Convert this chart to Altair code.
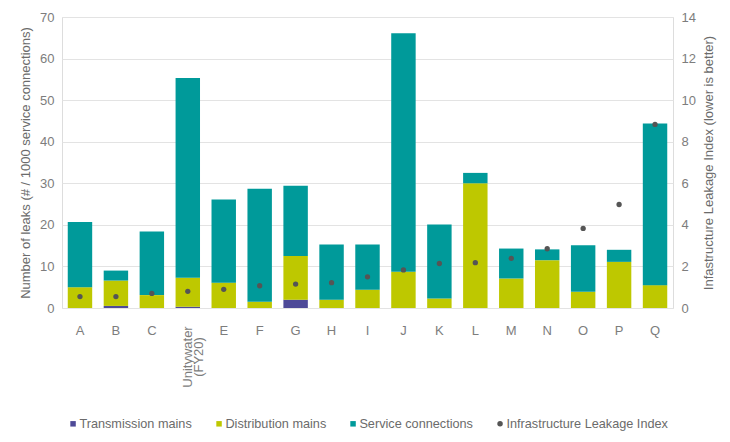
import altair as alt
import pandas as pd

categories = ["A", "B", "C", "Unitywater (FY20)", "E", "F", "G", "H", "I",
              "J", "K", "L", "M", "N", "O", "P", "Q"]
transmission = [0, 0.5, 0, 0.3, 0, 0, 2.0, 0, 0, 0, 0, 0, 0, 0, 0, 0, 0]
distribution = [5.0, 6.1, 3.1, 7.0, 6.1, 1.5, 10.5, 2.0, 4.4, 8.7, 2.3, 30.0, 7.1, 11.5, 3.9, 11.1, 5.5]
service = [15.7, 2.4, 15.3, 48.0, 20.0, 27.2, 16.9, 13.3, 10.9, 57.4, 17.8, 2.5, 7.2, 2.6, 11.2, 2.9, 38.9]
ili = [0.55, 0.55, 0.7, 0.8, 0.9, 1.07, 1.15, 1.22, 1.5, 1.83, 2.14, 2.18, 2.39, 2.85, 3.83, 4.98, 8.83]

series_names = ["Transmission mains", "Distribution mains", "Service connections",
                "Infrastructure Leakage Index"]
series_colors = ["#4e4a98", "#bec800", "#009a9a", "#555555"]
series_shapes = ["square", "square", "square", "circle"]

rows = []
for i, c in enumerate(categories):
    for k, vals in enumerate([transmission, distribution, service]):
        rows.append({"cat": c, "series": series_names[k], "value": vals[i], "ord": k})
bars_df = pd.DataFrame(rows)
ili_df = pd.DataFrame({"cat": categories, "ili": ili, "series": series_names[3]})
label_df = pd.DataFrame({"cat": ["Unitywater (FY20)"]})

FONT = "Liberation Sans"
GRAY = "#6b6b6b"
LGRAY = "#7d7d7d"

legend = alt.Legend(
    title=None, orient="none", direction="horizontal",
    legendX=4.7, legendY=400, padding=0,
    symbolSize=30, symbolStrokeWidth=0,
    labelFont=FONT, labelFontSize=12.7, labelColor=GRAY, labelLimit=400,
    labelOffset=0, columnPadding=20)

color_scale = alt.Scale(domain=series_names, range=series_colors)
shape_scale = alt.Scale(domain=series_names, range=series_shapes)

x_enc = alt.X("cat:N", sort=categories, title=None,
              scale=alt.Scale(paddingInner=0.32),
              axis=alt.Axis(labelExpr="datum.value == 'Unitywater (FY20)' ? '' : datum.value",
                            labelAngle=0, domain=False, ticks=False, labelPadding=16,
                            labelFontSize=13, labelColor=LGRAY, labelFont=FONT))

bars = alt.Chart(bars_df).mark_bar().encode(
    x=x_enc,
    y=alt.Y("value:Q", stack="zero",
            scale=alt.Scale(domain=[0, 70]),
            axis=alt.Axis(title="Number of leaks (# / 1000 service connections)",
                          values=[0, 10, 20, 30, 40, 50, 60, 70],
                          domain=False, ticks=False, labelPadding=8,
                          gridColor="#e3e3e3", titlePadding=7,
                          titleFontWeight="normal", titleFontSize=13, titleColor=GRAY,
                          titleFont=FONT, labelFont=FONT, labelFontSize=13, labelColor=LGRAY)),
    color=alt.Color("series:N", scale=color_scale, legend=legend),
    order=alt.Order("ord:Q", sort="ascending"),
)

points = alt.Chart(ili_df).mark_point(size=28, filled=True, opacity=1).encode(
    x=alt.X("cat:N", sort=categories),
    y=alt.Y("ili:Q", scale=alt.Scale(domain=[0, 14]),
            axis=alt.Axis(orient="right", title="Infastructure Leakage Index (lower is better)",
                          values=[0, 2, 4, 6, 8, 10, 12, 14], grid=False,
                          domain=False, ticks=False, labelPadding=8,
                          titleAngle=270, titleBaseline="top", titlePadding=7,
                          titleFontWeight="normal", titleFontSize=13, titleColor=GRAY,
                          titleFont=FONT, labelFont=FONT, labelFontSize=13, labelColor=LGRAY)),
    color=alt.Color("series:N", scale=color_scale, legend=legend),
    shape=alt.Shape("series:N", scale=shape_scale, legend=legend),
)

ulabel = alt.Chart(label_df).mark_text(
    text=["Unitywater", "(FY20)"], angle=270, align="center", baseline="middle",
    lineHeight=11, font=FONT, fontSize=13, color=LGRAY,
).encode(
    x=alt.X("cat:N", sort=categories),
    y=alt.value(340),
)

chart = alt.layer(bars, points, ulabel).resolve_scale(y="independent").properties(
    width=611, height=291,
    autosize=alt.AutoSizeParams(type="none"),
    padding={"left": 54, "top": 9, "right": 49, "bottom": 125},
).configure_view(stroke=None).configure(background="white")

chart.save("out.html", embed_options={"renderer": "svg", "actions": False})
